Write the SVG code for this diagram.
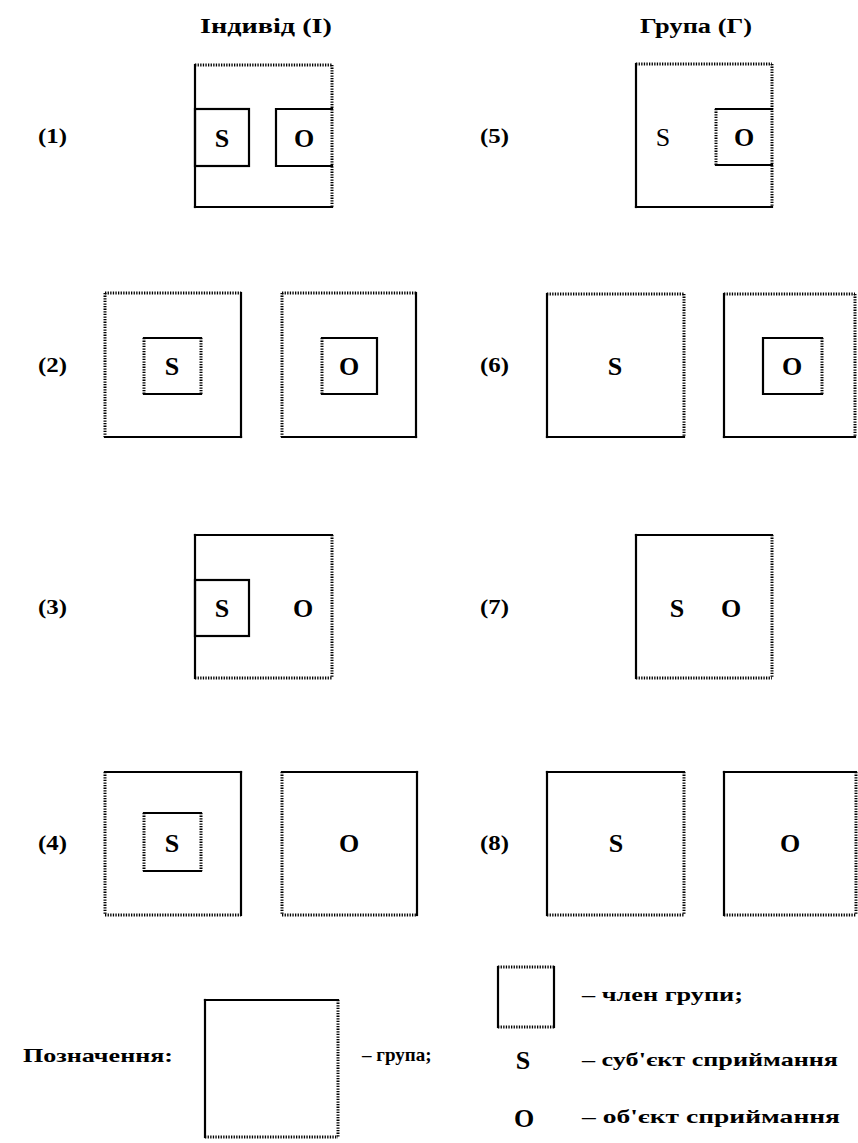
<svg xmlns="http://www.w3.org/2000/svg" width="858" height="1143" viewBox="0 0 858 1143">
<style>
.s{stroke:#000;stroke-width:2.2;fill:none;stroke-linecap:square}
.d{stroke:#000;stroke-width:3;fill:none;stroke-dasharray:1.3 1.3}
.t{font-family:"Liberation Serif","Times New Roman",serif;font-weight:bold;fill:#000}
.h{font-size:20px}
.l{font-size:22px}
.g{font-size:26px;text-anchor:middle}
.e{font-size:19px}
</style>
<rect width="858" height="1143" fill="#fff"/>
<g id="headers">
<text class="t h" x="200" y="33" textLength="132" lengthAdjust="spacingAndGlyphs">Індивід (І)</text>
<text class="t h" x="640" y="33" textLength="112" lengthAdjust="spacingAndGlyphs">Група (Г)</text>
</g>
<g id="labels">
<text class="t l" x="38" y="143" textLength="29" lengthAdjust="spacingAndGlyphs">(1)</text>
<text class="t l" x="38" y="372" textLength="29" lengthAdjust="spacingAndGlyphs">(2)</text>
<text class="t l" x="38" y="614" textLength="29" lengthAdjust="spacingAndGlyphs">(3)</text>
<text class="t l" x="38" y="850" textLength="29" lengthAdjust="spacingAndGlyphs">(4)</text>
<text class="t l" x="480" y="143" textLength="29" lengthAdjust="spacingAndGlyphs">(5)</text>
<text class="t l" x="480" y="372" textLength="29" lengthAdjust="spacingAndGlyphs">(6)</text>
<text class="t l" x="480" y="614" textLength="29" lengthAdjust="spacingAndGlyphs">(7)</text>
<text class="t l" x="480" y="850" textLength="29" lengthAdjust="spacingAndGlyphs">(8)</text>
</g>
<g id="case1">
<line class="d" x1="195" y1="65" x2="332" y2="65"/>
<line class="d" x1="332" y1="65" x2="332" y2="207"/>
<line class="s" x1="195" y1="65" x2="195" y2="207"/>
<line class="s" x1="195" y1="207" x2="332" y2="207"/>
<rect class="s" x="195" y="109" width="54" height="57"/>
<polyline class="s" points="332,109 276,109 276,166 332,166"/>
<text class="t g" x="222" y="147">S</text>
<text class="t g" x="304" y="147">O</text>
</g>
<g id="case5">
<line class="d" x1="636" y1="64" x2="772" y2="64"/>
<line class="d" x1="772" y1="64" x2="772" y2="207"/>
<line class="s" x1="636" y1="64" x2="636" y2="207"/>
<line class="s" x1="636" y1="207" x2="772" y2="207"/>
<line class="s" x1="716" y1="109" x2="772" y2="109"/>
<line class="s" x1="716" y1="165" x2="772" y2="165"/>
<line class="d" x1="716" y1="109" x2="716" y2="165"/>
<text class="t g" x="663" y="146" style="font-weight:normal">S</text>
<text class="t g" x="744" y="146">O</text>
</g>
<g id="case2">
<line class="d" x1="105" y1="293" x2="241" y2="293"/>
<line class="d" x1="105" y1="293" x2="105" y2="437"/>
<line class="s" x1="241" y1="293" x2="241" y2="437"/>
<line class="s" x1="105" y1="437" x2="241" y2="437"/>
<line class="s" x1="144" y1="338" x2="201" y2="338"/>
<line class="s" x1="144" y1="394" x2="201" y2="394"/>
<line class="d" x1="144" y1="338" x2="144" y2="394"/>
<line class="d" x1="201" y1="338" x2="201" y2="394"/>
<text class="t g" x="172" y="375">S</text>
<line class="d" x1="282" y1="293" x2="416" y2="293"/>
<line class="d" x1="282" y1="293" x2="282" y2="437"/>
<line class="s" x1="416" y1="293" x2="416" y2="437"/>
<line class="s" x1="282" y1="437" x2="416" y2="437"/>
<polyline class="s" points="322,338 377,338 377,394 322,394"/>
<line class="d" x1="322" y1="338" x2="322" y2="394"/>
<text class="t g" x="349" y="375">O</text>
</g>
<g id="case6">
<line class="d" x1="547" y1="294" x2="684" y2="294"/>
<line class="d" x1="684" y1="294" x2="684" y2="437"/>
<line class="s" x1="547" y1="294" x2="547" y2="437"/>
<line class="s" x1="547" y1="437" x2="684" y2="437"/>
<text class="t g" x="615" y="375">S</text>
<line class="d" x1="724" y1="294" x2="855" y2="294"/>
<line class="d" x1="855" y1="294" x2="855" y2="437"/>
<line class="s" x1="724" y1="294" x2="724" y2="437"/>
<line class="s" x1="724" y1="437" x2="855" y2="437"/>
<polyline class="s" points="822,338 763,338 763,394 822,394"/>
<line class="d" x1="822" y1="338" x2="822" y2="394"/>
<text class="t g" x="792" y="375">O</text>
</g>
<g id="case3">
<line class="s" x1="195" y1="535" x2="332" y2="535"/>
<line class="s" x1="195" y1="535" x2="195" y2="678"/>
<line class="d" x1="332" y1="535" x2="332" y2="678"/>
<line class="d" x1="195" y1="678" x2="332" y2="678"/>
<rect class="s" x="195" y="580" width="54" height="56"/>
<text class="t g" x="222" y="617">S</text>
<text class="t g" x="303" y="617">O</text>
</g>
<g id="case7">
<line class="s" x1="636" y1="535" x2="772" y2="535"/>
<line class="s" x1="636" y1="535" x2="636" y2="678"/>
<line class="d" x1="772" y1="535" x2="772" y2="678"/>
<line class="d" x1="636" y1="678" x2="772" y2="678"/>
<text class="t g" x="677" y="617">S</text>
<text class="t g" x="731" y="617">O</text>
</g>
<g id="case4">
<line class="s" x1="105" y1="772" x2="241" y2="772"/>
<line class="s" x1="241" y1="772" x2="241" y2="915"/>
<line class="d" x1="105" y1="772" x2="105" y2="915"/>
<line class="d" x1="105" y1="915" x2="241" y2="915"/>
<line class="s" x1="144" y1="813" x2="201" y2="813"/>
<line class="s" x1="144" y1="871" x2="201" y2="871"/>
<line class="d" x1="144" y1="813" x2="144" y2="871"/>
<line class="d" x1="201" y1="813" x2="201" y2="871"/>
<text class="t g" x="172" y="852">S</text>
<line class="s" x1="282" y1="772" x2="417" y2="772"/>
<line class="s" x1="417" y1="772" x2="417" y2="915"/>
<line class="d" x1="282" y1="772" x2="282" y2="915"/>
<line class="d" x1="282" y1="915" x2="417" y2="915"/>
<text class="t g" x="349" y="852">O</text>
</g>
<g id="case8">
<line class="s" x1="547" y1="772" x2="684" y2="772"/>
<line class="s" x1="547" y1="772" x2="547" y2="915"/>
<line class="d" x1="684" y1="772" x2="684" y2="915"/>
<line class="d" x1="547" y1="915" x2="684" y2="915"/>
<text class="t g" x="616" y="852">S</text>
<line class="s" x1="724" y1="772" x2="856" y2="772"/>
<line class="s" x1="724" y1="772" x2="724" y2="915"/>
<line class="d" x1="856" y1="772" x2="856" y2="915"/>
<line class="d" x1="724" y1="915" x2="856" y2="915"/>
<text class="t g" x="790" y="852">O</text>
</g>
<g id="legend">
<text class="t e" x="23" y="1062" textLength="150" lengthAdjust="spacingAndGlyphs">Позначення:</text>
<line class="s" x1="205" y1="1000" x2="338" y2="1000"/>
<line class="s" x1="205" y1="1000" x2="205" y2="1137"/>
<line class="d" x1="338" y1="1000" x2="338" y2="1137"/>
<line class="d" x1="205" y1="1137" x2="338" y2="1137"/>
<text class="t e" x="362" y="1061">– група;</text>
<line class="d" x1="498" y1="967" x2="554" y2="967"/>
<line class="d" x1="498" y1="1027" x2="554" y2="1027"/>
<line class="s" x1="498" y1="967" x2="498" y2="1027"/>
<line class="s" x1="554" y1="967" x2="554" y2="1027"/>
<text class="t e" x="582" y="1001" textLength="161" lengthAdjust="spacingAndGlyphs">– член групи;</text>
<text class="t g" x="523" y="1069">S</text>
<text class="t e" x="582" y="1066" textLength="256" lengthAdjust="spacingAndGlyphs">– суб'єкт сприймання</text>
<text class="t g" x="524" y="1127">O</text>
<text class="t e" x="582" y="1123" textLength="258" lengthAdjust="spacingAndGlyphs">– об'єкт сприймання</text>
</g>
</svg>
